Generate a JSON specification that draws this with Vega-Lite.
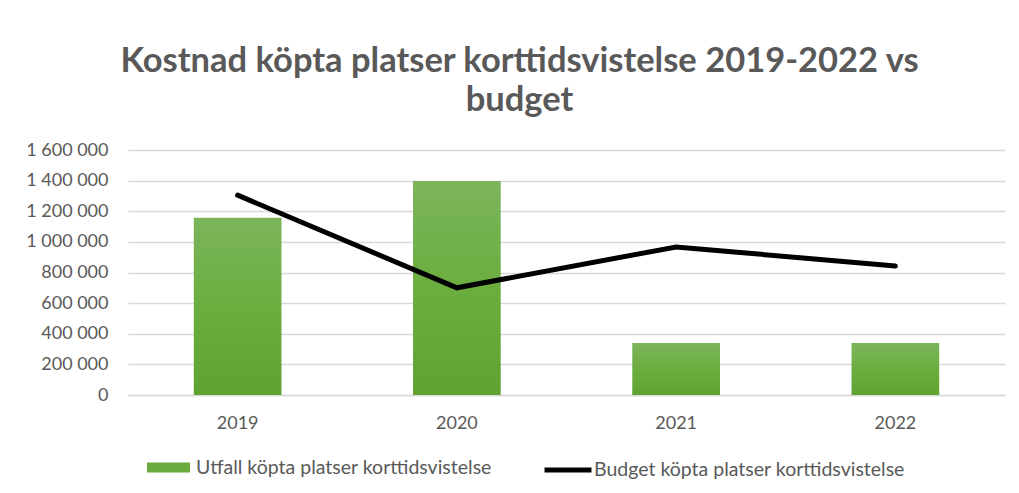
{
  "$schema": "https://vega.github.io/schema/vega-lite/v6.json",
  "width": 877,
  "height": 245,
  "autosize": {"type": "none"},
  "padding": {"left": 128, "top": 150, "right": 14, "bottom": 98},
  "config": {
    "locale": {"number": {"decimal": ",", "thousands": " ", "grouping": [3], "currency": ["", ""]}},
    "view": {"stroke": null},
    "font": "Lato",
    "axisY": {
      "title": null,
      "values": [0, 200000, 400000, 600000, 800000, 1000000, 1200000, 1400000, 1600000],
      "format": ",d",
      "labelOverlap": false,
      "labelFont": "Lato",
      "labelFontSize": 18,
      "labelColor": "#595959",
      "labelPadding": 20,
      "ticks": false,
      "domain": false,
      "gridColor": "#d9d9d9",
      "gridWidth": 1.5
    }
  },
  "title": {
    "text": ["Kostnad köpta platser korttidsvistelse 2019-2022 vs", "budget"],
    "font": "Lato",
    "fontSize": 34.5,
    "fontWeight": "bold",
    "color": "#595959",
    "anchor": "middle",
    "dx": -47,
    "offset": 23,
    "lineHeight": 39
  },
  "data": {
    "values": [
      {"year": "2019", "utfall": 1158000, "budget": 1305000},
      {"year": "2020", "utfall": 1398000, "budget": 700000},
      {"year": "2021", "utfall": 340000, "budget": 967000},
      {"year": "2022", "utfall": 340000, "budget": 842000}
    ]
  },
  "encoding": {
    "x": {
      "field": "year",
      "type": "ordinal",
      "scale": {"paddingInner": 0.6, "paddingOuter": 0.3},
      "axis": {
        "title": null,
        "labelAngle": 0,
        "labelFont": "Lato",
        "labelFontSize": 18,
        "labelColor": "#595959",
        "labelPadding": 19,
        "ticks": false,
        "domainColor": "#d9d9d9",
        "domainWidth": 1.5
      }
    }
  },
  "layer": [
    {
      "mark": {
        "type": "bar",
        "color": {
          "gradient": "linear",
          "x1": 0, "y1": 0, "x2": 0, "y2": 1,
          "stops": [
            {"offset": 0, "color": "#7bb55c"},
            {"offset": 0.5, "color": "#6cad3f"},
            {"offset": 1, "color": "#60a232"}
          ]
        }
      },
      "encoding": {
        "y": {
          "field": "utfall",
          "type": "quantitative",
          "scale": {"domain": [0, 1600000]},
          "axis": {"values": [0, 200000, 400000, 600000, 800000, 1000000, 1200000, 1400000, 1600000], "labelOverlap": false, "title": null}
        }
      }
    },
    {
      "mark": {"type": "bar", "opacity": 0},
      "encoding": {
        "y": {"field": "utfall", "type": "quantitative", "axis": {"values": [0, 200000, 400000, 600000, 800000, 1000000, 1200000, 1400000, 1600000], "labelOverlap": false, "title": null}},
        "fill": {
          "datum": "Utfall köpta platser korttidsvistelse",
          "type": "nominal",
          "scale": {"range": ["#6aaa3e"]},
          "legend": {
            "title": null,
            "orient": "none",
            "legendX": 19,
            "legendY": 296,
            "symbolType": "M-1,-0.233H1V0.233H-1Z",
            "symbolSize": 1849,
            "symbolOpacity": 1,
            "symbolStrokeWidth": 0,
            "labelFont": "Lato",
            "labelFontSize": 19.5,
            "labelColor": "#595959",
            "labelOffset": 6,
            "labelLimit": 500
          }
        }
      }
    },
    {
      "mark": {"type": "line", "strokeWidth": 5, "strokeCap": "round"},
      "encoding": {
        "y": {"field": "budget", "type": "quantitative", "axis": {"values": [0, 200000, 400000, 600000, 800000, 1000000, 1200000, 1400000, 1600000], "labelOverlap": false, "title": null}},
        "stroke": {
          "datum": "Budget köpta platser korttidsvistelse",
          "type": "nominal",
          "scale": {"range": ["#000000"]},
          "legend": {
            "title": null,
            "orient": "none",
            "legendX": 414,
            "legendY": 294,
            "symbolType": "stroke",
            "symbolSize": 2209,
            "symbolStrokeWidth": 5,
            "labelFont": "Lato",
            "labelFontSize": 19.5,
            "labelColor": "#595959",
            "labelOffset": 0,
            "labelLimit": 500
          }
        }
      }
    }
  ]
}
